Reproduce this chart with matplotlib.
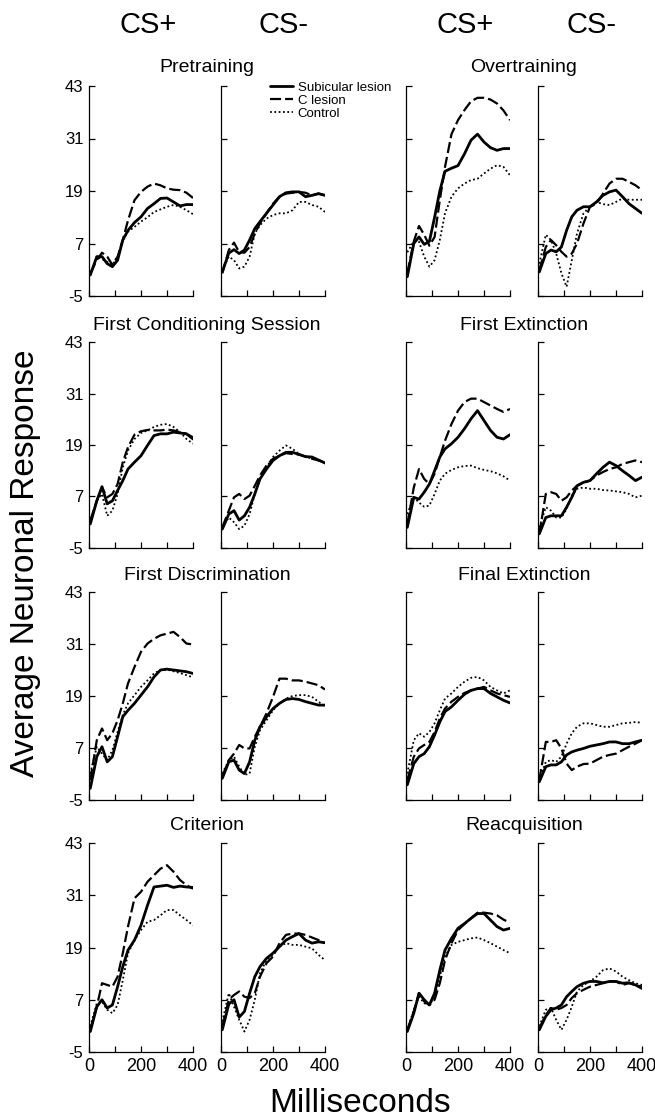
import matplotlib
matplotlib.use('Agg')
import matplotlib.pyplot as plt
from matplotlib.lines import Line2D

plt.rcParams['font.family'] = ['Liberation Sans', 'DejaVu Sans']

# time axis (ms), shared by every trace
ms = [5, 30, 50, 70, 90, 110, 130, 150, 175, 200, 225, 250, 275, 300, 325, 350, 375, 400]

# Pretraining
pre_plus_sub = [-0.2, 4.0, 4.0, 2.4, 1.7, 3.2, 7.8, 10.0, 11.8, 13.1, 15.0, 16.1, 17.3, 17.4, 16.5, 15.6, 15.9, 15.9]
pre_plus_c = [0.2, 3.2, 4.9, 4.0, 2.1, 4.0, 7.8, 12.3, 16.9, 18.8, 20.0, 20.7, 20.3, 19.6, 19.3, 19.2, 18.6, 17.4]
pre_plus_ctl = [-0.2, 4.0, 3.4, 2.8, 2.1, 4.0, 7.8, 9.7, 10.8, 12.0, 13.0, 14.2, 14.8, 15.4, 15.8, 15.4, 14.6, 13.7]
pre_minus_sub = [0.5, 4.8, 5.6, 4.7, 5.5, 7.8, 10.4, 12.0, 13.9, 15.8, 17.7, 18.6, 18.8, 18.8, 17.7, 18.0, 18.4, 18.0]
pre_minus_c = [0.2, 5.5, 7.2, 5.0, 4.9, 6.2, 9.3, 11.6, 13.9, 16.1, 17.7, 18.4, 18.6, 18.8, 18.6, 18.0, 18.4, 18.0]
pre_minus_ctl = [0.9, 4.0, 3.2, 1.3, 1.7, 4.0, 9.3, 11.2, 12.7, 13.5, 13.9, 13.9, 14.6, 16.5, 16.5, 15.8, 15.4, 14.2]

# First Conditioning Session
fc_plus_sub = [0.6, 6.0, 9.3, 5.3, 6.0, 8.4, 10.7, 13.4, 15.0, 16.5, 18.9, 21.2, 21.6, 21.6, 22.0, 21.8, 21.6, 20.4]
fc_plus_c = [1.4, 6.0, 9.1, 6.8, 7.6, 9.9, 15.0, 18.5, 21.4, 22.2, 22.5, 22.4, 22.4, 22.6, 22.4, 22.0, 21.6, 20.8]
fc_plus_ctl = [1.4, 6.0, 7.6, 2.5, 3.7, 7.6, 13.8, 17.7, 20.4, 21.8, 22.4, 23.2, 23.7, 23.9, 23.2, 22.0, 20.4, 19.3]
fc_minus_sub = [-0.6, 2.9, 3.7, 1.5, 2.5, 4.5, 7.6, 11.1, 13.4, 15.4, 16.5, 17.3, 17.3, 16.8, 16.3, 16.2, 15.5, 14.8]
fc_minus_c = [-0.2, 3.7, 6.8, 7.6, 6.4, 7.2, 9.5, 11.9, 14.2, 15.8, 16.5, 17.1, 16.9, 16.8, 16.3, 15.8, 15.4, 15.0]
fc_minus_ctl = [-0.2, 2.1, 1.0, -0.6, 0.2, 2.9, 7.6, 11.1, 13.8, 16.2, 17.7, 18.9, 18.1, 16.9, 16.3, 15.8, 15.4, 15.0]

# First Discrimination
fd_plus_sub = [-2.3, 5.0, 7.3, 3.8, 5.0, 9.6, 14.2, 15.7, 17.3, 19.2, 21.1, 23.4, 25.0, 25.2, 25.0, 24.8, 24.6, 24.2]
fd_plus_c = [-0.4, 8.8, 11.5, 8.8, 10.4, 13.4, 17.3, 21.9, 25.7, 29.2, 31.1, 32.2, 33.0, 33.4, 33.8, 32.6, 31.1, 30.9]
fd_plus_ctl = [1.1, 7.3, 5.7, 4.2, 6.5, 10.7, 14.6, 17.3, 19.2, 21.1, 22.6, 24.2, 25.0, 25.1, 24.7, 24.3, 23.8, 23.3]
fd_minus_sub = [0.0, 3.8, 4.2, 1.9, 1.1, 3.8, 8.8, 11.9, 14.2, 16.1, 17.3, 18.2, 18.4, 18.2, 17.7, 17.3, 16.9, 16.9]
fd_minus_c = [0.4, 4.2, 5.7, 7.7, 6.9, 6.9, 9.6, 11.9, 15.0, 18.8, 23.0, 23.0, 22.6, 22.6, 22.3, 21.9, 21.5, 20.5]
fd_minus_ctl = [1.1, 4.2, 5.0, 2.7, 0.8, 1.1, 7.3, 11.1, 13.4, 15.7, 17.3, 18.4, 19.0, 19.2, 19.2, 18.8, 17.7, 16.5]

# Criterion
cr_plus_sub = [-0.3, 5.4, 7.0, 5.1, 5.8, 10.0, 14.6, 18.4, 20.7, 24.1, 28.7, 32.9, 33.1, 33.3, 32.8, 33.1, 32.9, 32.8]
cr_plus_c = [0.1, 5.4, 10.8, 10.4, 10.0, 12.3, 17.7, 23.8, 30.3, 31.8, 34.1, 35.6, 37.1, 37.9, 36.4, 34.5, 33.3, 32.5]
cr_plus_ctl = [0.9, 6.2, 6.6, 4.7, 3.9, 5.8, 11.5, 17.7, 20.7, 23.0, 24.9, 25.3, 26.4, 27.6, 27.6, 26.4, 25.3, 24.1]
cr_minus_sub = [0.1, 6.0, 7.0, 3.0, 4.3, 8.5, 12.3, 14.6, 16.5, 17.7, 19.2, 20.7, 21.5, 22.2, 20.7, 20.0, 20.3, 20.1]
cr_minus_c = [0.9, 7.0, 8.1, 8.9, 7.7, 7.4, 8.5, 12.3, 15.4, 16.9, 20.0, 21.9, 22.2, 22.2, 21.9, 21.3, 20.7, 20.0]
cr_minus_ctl = [2.0, 8.5, 5.4, 2.4, -0.3, 2.4, 7.0, 13.1, 16.1, 17.3, 19.2, 20.0, 19.6, 19.6, 19.2, 18.8, 17.3, 16.1]

# Overtraining
ot_plus_sub = [-0.6, 7.0, 8.5, 6.8, 7.5, 13.0, 19.0, 23.5, 24.2, 24.8, 27.5, 30.6, 32.0, 30.2, 28.9, 28.3, 28.7, 28.7]
ot_plus_c = [0.2, 7.5, 11.0, 9.0, 6.5, 8.5, 16.9, 24.5, 32.0, 35.2, 37.5, 39.5, 40.3, 40.3, 39.9, 39.0, 37.4, 35.2]
ot_plus_ctl = [5.0, 7.5, 7.4, 4.0, 1.7, 3.2, 7.8, 13.9, 17.7, 19.6, 20.7, 21.5, 21.8, 23.0, 24.1, 24.9, 24.5, 22.6]
ot_minus_sub = [0.5, 4.7, 5.5, 5.1, 6.2, 10.0, 13.1, 14.6, 15.4, 15.4, 16.5, 18.0, 18.8, 19.2, 17.7, 16.1, 15.0, 13.9]
ot_minus_c = [0.9, 6.2, 7.8, 6.6, 5.1, 4.0, 4.7, 7.0, 11.6, 15.4, 16.1, 18.4, 20.7, 21.8, 21.8, 21.1, 20.3, 19.2]
ot_minus_ctl = [2.4, 9.0, 7.8, 4.7, 0.2, -2.9, 3.2, 9.3, 13.9, 15.4, 16.5, 16.0, 15.8, 16.5, 17.3, 17.0, 17.0, 17.0]

# First Extinction
fe_plus_sub = [-0.2, 6.8, 6.4, 8.0, 9.9, 13.0, 16.2, 18.1, 19.3, 20.8, 22.8, 25.1, 27.0, 24.7, 22.4, 20.8, 20.4, 21.4]
fe_plus_c = [0.6, 9.1, 13.4, 11.1, 9.9, 12.3, 16.2, 20.0, 23.9, 27.0, 29.0, 29.8, 29.8, 29.0, 28.2, 27.4, 26.7, 27.4]
fe_plus_ctl = [2.9, 6.8, 5.6, 4.6, 4.9, 7.6, 10.7, 12.3, 13.2, 13.8, 14.1, 14.2, 13.6, 13.2, 12.9, 12.4, 11.7, 10.7]
fe_minus_sub = [-1.7, 2.1, 2.5, 2.5, 2.5, 4.5, 6.8, 9.5, 10.3, 10.7, 12.3, 13.8, 15.0, 14.2, 13.0, 11.9, 10.7, 11.5]
fe_minus_c = [-1.7, 7.6, 8.0, 7.6, 6.0, 6.8, 8.4, 9.5, 10.3, 10.7, 11.9, 12.7, 13.4, 13.8, 14.6, 15.0, 15.4, 15.0]
fe_minus_ctl = [-0.2, 4.5, 3.7, 2.1, 2.1, 4.1, 7.2, 8.8, 9.1, 8.8, 8.8, 8.5, 8.4, 8.2, 8.0, 7.6, 6.8, 7.2]

# Final Extinction
fx_plus_sub = [-1.5, 3.4, 5.0, 5.7, 7.3, 10.0, 13.0, 15.4, 16.5, 18.0, 19.4, 20.3, 20.7, 20.7, 19.6, 18.8, 18.0, 17.4]
fx_plus_c = [-0.4, 5.0, 6.9, 7.7, 8.4, 10.7, 13.8, 16.1, 17.7, 18.8, 19.7, 20.3, 20.7, 21.1, 20.3, 19.6, 19.2, 18.8]
fx_plus_ctl = [1.1, 8.8, 10.4, 9.6, 10.7, 12.7, 15.7, 18.4, 19.6, 21.1, 22.3, 23.2, 23.4, 22.6, 21.1, 20.3, 19.6, 20.3]
fx_minus_sub = [-0.8, 2.7, 3.1, 3.1, 3.8, 5.4, 6.1, 6.5, 6.9, 7.4, 7.7, 8.0, 8.4, 8.4, 8.0, 8.0, 8.4, 8.8]
fx_minus_c = [-0.4, 8.4, 8.4, 8.8, 6.9, 3.4, 1.9, 2.7, 3.3, 3.4, 4.2, 5.0, 5.4, 5.7, 6.5, 7.3, 8.0, 8.8]
fx_minus_ctl = [-0.4, 3.8, 4.2, 3.8, 5.0, 8.0, 10.4, 11.9, 12.7, 12.7, 12.3, 11.9, 11.9, 12.3, 12.7, 12.8, 13.0, 12.8]

# Reacquisition
ra_plus_sub = [-0.3, 3.9, 8.5, 7.0, 5.8, 8.5, 13.8, 18.4, 21.1, 23.4, 24.5, 25.7, 26.8, 26.8, 25.3, 23.8, 23.0, 23.4]
ra_plus_c = [0.1, 4.3, 8.5, 6.6, 5.8, 7.0, 10.8, 16.1, 20.0, 23.0, 24.4, 25.7, 27.0, 27.0, 26.8, 26.4, 25.4, 24.7]
ra_plus_ctl = [0.1, 4.7, 7.7, 6.2, 5.8, 7.7, 12.3, 16.9, 19.6, 20.3, 20.7, 21.1, 21.3, 20.7, 20.0, 19.2, 18.4, 17.7]
ra_minus_sub = [0.1, 3.2, 4.7, 5.1, 5.8, 7.7, 8.9, 10.0, 10.8, 11.2, 11.2, 10.9, 11.2, 11.2, 10.8, 10.9, 10.4, 9.6]
ra_minus_c = [0.5, 3.5, 5.1, 4.7, 5.1, 5.8, 7.4, 8.5, 9.3, 10.0, 10.4, 10.8, 11.2, 11.2, 10.4, 10.8, 10.4, 10.0]
ra_minus_ctl = [0.9, 4.7, 5.1, 2.4, 0.1, 2.4, 5.4, 8.9, 10.4, 11.2, 12.3, 13.8, 14.2, 13.5, 12.3, 11.5, 10.8, 10.4]

left_sessions = ['Pretraining', 'First Conditioning Session', 'First Discrimination', 'Criterion']
right_sessions = ['Overtraining', 'First Extinction', 'Final Extinction', 'Reacquisition']
group_labels = ['Subicular lesion', 'C lesion', 'Control']
y_ticks = [-5, 7, 19, 31, 43]
x_ticks = [0, 100, 200, 300, 400]
x_ticklabels = ['0', '', '200', '', '400']

panels = {
    'Pretraining': ((pre_plus_sub, pre_plus_c, pre_plus_ctl), (pre_minus_sub, pre_minus_c, pre_minus_ctl)),
    'First Conditioning Session': ((fc_plus_sub, fc_plus_c, fc_plus_ctl), (fc_minus_sub, fc_minus_c, fc_minus_ctl)),
    'First Discrimination': ((fd_plus_sub, fd_plus_c, fd_plus_ctl), (fd_minus_sub, fd_minus_c, fd_minus_ctl)),
    'Criterion': ((cr_plus_sub, cr_plus_c, cr_plus_ctl), (cr_minus_sub, cr_minus_c, cr_minus_ctl)),
    'Overtraining': ((ot_plus_sub, ot_plus_c, ot_plus_ctl), (ot_minus_sub, ot_minus_c, ot_minus_ctl)),
    'First Extinction': ((fe_plus_sub, fe_plus_c, fe_plus_ctl), (fe_minus_sub, fe_minus_c, fe_minus_ctl)),
    'Final Extinction': ((fx_plus_sub, fx_plus_c, fx_plus_ctl), (fx_minus_sub, fx_minus_c, fx_minus_ctl)),
    'Reacquisition': ((ra_plus_sub, ra_plus_c, ra_plus_ctl), (ra_minus_sub, ra_minus_c, ra_minus_ctl)),
}

# line styles for subicular / C lesion / control
styles = [
    dict(color='black', lw=2.0, ls='-', solid_capstyle='round'),
    dict(color='black', lw=1.6, ls=(0, (5, 1.8))),
    dict(color='black', lw=1.3, ls=(0, (1, 1.4))),
]

W, H = 655, 1119
fig = plt.figure(figsize=(W / 100, H / 100), dpi=100)

col_px = [(89, 193), (221, 325), (406, 510), (538, 642)]
row_px = [(86, 296), (342, 548), (592, 800), (843, 1052)]
title_y = [67, 325, 575, 825]


def make_axes(col, row):
    l, r = col_px[col]
    t, b = row_px[row]
    ax = fig.add_axes([l / W, 1 - b / H, (r - l) / W, (b - t) / H])
    ax.set_xlim(0, 400)
    ax.set_ylim(-5, 43)
    ax.spines['top'].set_visible(False)
    ax.spines['right'].set_visible(False)
    for s in ('left', 'bottom'):
        ax.spines[s].set_linewidth(0.9)
    ax.set_xticks(x_ticks)
    ax.set_yticks(y_ticks)
    ax.tick_params(direction='in', length=4, width=0.9)
    ax.tick_params(axis='y', labelsize=12, pad=4)
    ax.tick_params(axis='x', labelsize=13, pad=4)
    if row == 3:
        ax.set_xticklabels(x_ticklabels)
    else:
        ax.set_xticklabels([])
    if col == 0:
        ax.set_yticklabels([str(v) for v in y_ticks])
    else:
        ax.set_yticklabels([])
    return ax


legend_ax = None
for gi, sessions in enumerate([left_sessions, right_sessions]):
    for row, name in enumerate(sessions):
        plus, minus = panels[name]
        for k, traces in enumerate([plus, minus]):
            col = gi * 2 + k
            ax = make_axes(col, row)
            for vals, st in zip(traces, styles):
                ax.plot(ms, vals, **st)
            if gi == 0 and row == 0 and k == 1:
                legend_ax = ax
        cx = (col_px[gi * 2][0] + col_px[gi * 2 + 1][1]) / 2
        fig.text(cx / W, 1 - title_y[row] / H, name, ha='center', va='center', fontsize=14)

handles = [Line2D([], [], **st) for st in styles]
legend_ax.legend(handles, group_labels, loc='upper left', bbox_to_anchor=(0.47, 1.02),
                 frameon=False, fontsize=9.5, handlelength=1.75, handletextpad=0.35,
                 labelspacing=0.05, borderpad=0, borderaxespad=0)

# column headers
for x, lab in zip([148, 283, 465, 592], ['CS+', 'CS-', 'CS+', 'CS-']):
    fig.text(x / W, 1 - 25 / H, lab, ha='center', va='center', fontsize=21)

fig.text(360 / W, 1 - 1103 / H, 'Milliseconds', ha='center', va='center', fontsize=24)
fig.text(26 / W, 1 - 563 / H, 'Average Neuronal Response', ha='center', va='center',
         rotation=90, fontsize=24)

fig.savefig('out.png', dpi=100)
